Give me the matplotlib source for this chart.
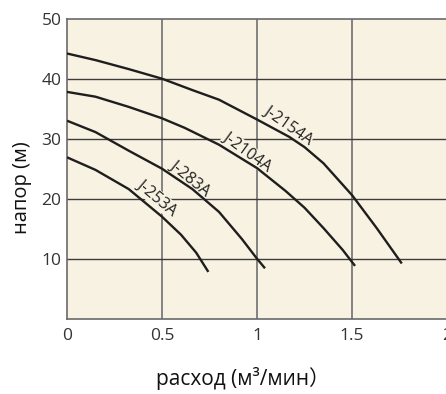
import numpy as np
import matplotlib
matplotlib.use("Agg")
import matplotlib.pyplot as plt

plt.rcParams['font.family'] = ['Open Sans', 'DejaVu Sans', 'Noto Sans CJK SC']

# pump curves: flow (m3/min) vs head (m)
q_2154 = [0, 0.15, 0.325, 0.5, 0.66, 0.8, 1.0, 1.17, 1.25, 1.35, 1.5, 1.63, 1.762]
h_2154 = [44.2, 43.1, 41.6, 40.0, 38.1, 36.5, 33.2, 30.3, 28.6, 25.9, 20.6, 15.1, 9.2]

q_2104 = [0, 0.15, 0.325, 0.5, 0.62, 0.8, 1.0, 1.15, 1.25, 1.35, 1.45, 1.516]
h_2104 = [37.8, 37.0, 35.3, 33.4, 31.8, 29.0, 25.1, 21.3, 18.5, 15.1, 11.5, 8.8]

q_283 = [0, 0.15, 0.325, 0.5, 0.66, 0.8, 0.92, 1.0, 1.042]
h_283 = [33.0, 31.1, 28.0, 25.0, 21.6, 17.8, 13.3, 10.0, 8.4]

q_253 = [0, 0.15, 0.325, 0.5, 0.6, 0.68, 0.744]
h_253 = [26.9, 24.8, 21.6, 17.0, 14.0, 11.0, 7.8]

names = ['J-2154A', 'J-2104A', 'J-283A', 'J-253A']
label_x = [1.163, 0.946, 0.647, 0.472]
label_y = [32.3, 27.8, 23.4, 20.1]
label_rot = [-35, -36, -39, -40]

xticks = [0, 0.5, 1, 1.5, 2]
xticklabels = ['0', '0.5', '1', '1.5', '2']
yticks = [10, 20, 30, 40, 50]

fig = plt.figure(figsize=(4.46, 3.94), dpi=100)
ax = fig.add_axes([67 / 446, 1 - 318.7 / 394, 380 / 446, 300 / 394])
ax.set_facecolor('#f8f2e2')

ax.set_xlim(0, 2)
ax.set_ylim(0, 50)

for x in [0.5, 1, 1.5]:
    ax.axvline(x, color='#7a7a7a', lw=1.3, zorder=1)
for y in [10, 20, 30, 40]:
    ax.axhline(y, color='#3c3c3c', lw=1.0, zorder=1)

for q, h in [(q_2154, h_2154), (q_2104, h_2104), (q_283, h_283), (q_253, h_253)]:
    ax.plot(q, h, color='#1e1e1e', lw=1.7, zorder=3, solid_capstyle='butt',
            solid_joinstyle='round')

for name, lx, ly, rot in zip(names, label_x, label_y, label_rot):
    ax.text(lx, ly, name, rotation=rot, ha='center', va='center', fontsize=11.5,
            color='#222222', zorder=2, rotation_mode='anchor',
            bbox=dict(facecolor='#f8f2e2', edgecolor='none', pad=0.3))

ax.set_xticks(xticks)
ax.set_xticklabels(xticklabels)
ax.set_yticks(yticks)
ax.tick_params(length=0, labelsize=12.5, colors='#333333')
ax.tick_params(axis='x', pad=7)
ax.tick_params(axis='y', pad=4)

for s in ['left', 'bottom', 'top']:
    ax.spines[s].set_color('#6a6a6a')
    ax.spines[s].set_linewidth(1.2)
ax.spines['right'].set_visible(False)

fig.text(22 / 446, 1 - 188 / 394, 'напор (м)', rotation=90, ha='center', va='center',
         fontsize=14.5, color='#111111')
fig.text(243 / 446, 1 - 379 / 394, 'расход (м³/мин）', ha='center', va='center',
         fontsize=15, color='#111111')

fig.savefig('out.png', dpi=100)
